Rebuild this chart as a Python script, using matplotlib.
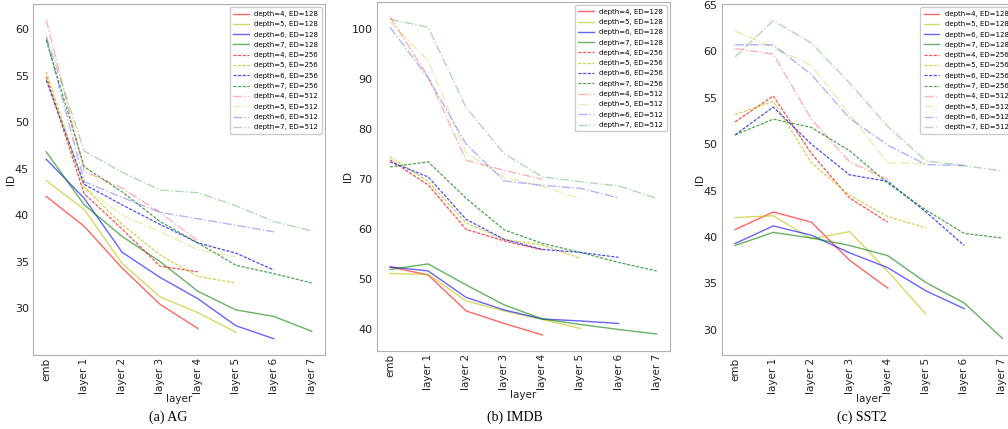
import matplotlib
matplotlib.use("Agg")
from matplotlib import pyplot as plt

# x axis categories (shared by all three panels)
layers = ["emb", "layer 1", "layer 2", "layer 3", "layer 4", "layer 5", "layer 6", "layer 7"]
depths = [4, 5, 6, 7]
dims = [128, 256, 512]

# AG  -> one list per depth, index = position in depths
ag_128 = [[42.0, 38.8, 34.3, 30.4, 27.8],
          [43.7, 40.6, 34.8, 31.2, 29.5, 27.4],
          [46.0, 41.8, 36.0, 33.3, 31.0, 28.1, 26.7],
          [46.8, 41.1, 37.7, 35.0, 31.8, 29.8, 29.1, 27.5]]
ag_256 = [[54.9, 42.3, 38.5, 34.5, 33.9],
          [55.4, 43.0, 39.0, 35.7, 33.4, 32.7],
          [54.5, 43.3, 41.1, 39.0, 37.0, 35.9, 34.1],
          [58.8, 45.2, 42.5, 39.3, 37.0, 34.6, 33.7, 32.7]]
ag_512 = [[61.0, 44.7, 42.9, 40.3, 37.2],
          [54.8, 43.0, 40.0, 38.2, 36.3, 35.5],
          [59.1, 43.6, 41.9, 40.3, 39.6, 38.9, 38.2],
          [59.2, 46.9, 44.6, 42.7, 42.4, 41.0, 39.3, 38.3]]

# IMDB
imdb_128 = [[52.5, 50.9, 43.7, 41.2, 38.9],
            [51.2, 51.0, 45.7, 43.7, 42.0, 40.2],
            [52.5, 51.7, 46.4, 43.9, 42.1, 41.7, 41.2],
            [52.0, 53.1, 48.9, 44.9, 42.1, 41.0, 40.0, 39.1]]
imdb_256 = [[73.9, 68.9, 60.0, 57.7, 55.9],
            [74.5, 69.6, 61.3, 58.0, 56.9, 54.2],
            [73.5, 70.5, 62.0, 58.0, 56.0, 55.4, 54.4],
            [72.5, 73.5, 66.2, 59.9, 57.2, 55.4, 53.4, 51.7]]
imdb_512 = [[102.5, 90.5, 73.8, 71.8, 70.0],
            [101.5, 93.7, 75.3, 70.4, 68.6, 66.1],
            [100.4, 90.3, 77.0, 69.7, 68.8, 68.2, 66.3],
            [102.0, 100.4, 84.3, 75.1, 70.5, 69.5, 68.7, 66.2]]

# SST2
sst2_128 = [[40.8, 42.7, 41.6, 37.5, 34.5],
            [42.1, 42.3, 39.8, 40.6, 36.3, 31.7],
            [39.3, 41.2, 40.2, 38.3, 36.7, 34.2, 32.3],
            [39.1, 40.5, 39.9, 39.1, 38.0, 35.1, 32.9, 29.1]]
sst2_256 = [[52.4, 55.2, 49.0, 44.2, 41.6],
            [53.2, 54.6, 48.0, 44.5, 42.2, 41.0],
            [51.0, 54.0, 50.0, 46.7, 46.0, 42.7, 39.1],
            [51.0, 52.7, 51.8, 49.3, 45.8, 42.9, 40.4, 39.9]]
sst2_512 = [[60.3, 59.7, 52.7, 48.1, 46.2],
            [62.2, 60.4, 58.5, 53.2, 48.0, 47.9],
            [60.7, 60.7, 57.5, 52.8, 49.9, 47.8, 47.7],
            [59.4, 63.3, 60.9, 56.6, 51.9, 48.2, 47.7, 47.1]]

captions = ["(a) AG", "(b) IMDB", "(c) SST2"]
y_ticks = [[30, 35, 40, 45, 50, 55, 60],
           [40, 50, 60, 70, 80, 90, 100],
           [30, 35, 40, 45, 50, 55, 60, 65]]
y_limits = [(24.95, 62.7), (35.7, 105.5), (27.3, 65.1)]

colors = ["r", "y", "b", "g"]
# ED -> (line style, alpha, width)
styles = {128: ("-", 0.6, 1.0), 256: ((0, (2.5, 1.2)), 0.7, 0.9), 512: ("-.", 0.3, 1.0)}

W, H = 1008, 429
# axes boxes in pixels: left, top, right, bottom
boxes = [(33, 4, 325, 355), (376.7, 1.7, 670, 351), (721.7, 4, 1015.7, 355)]
caption_x = [168, 515, 862]


def draw_panel(ax, series, yticks, ylim):
    for dim, group in zip(dims, series):
        ls, alpha, lw = styles[dim]
        for depth, color, values in zip(depths, colors, group):
            ax.plot(layers[:len(values)], values, color=color, linestyle=ls, alpha=alpha,
                    linewidth=lw, label=f"depth={depth}, ED={dim}")

    ax.set_xlim(-0.35, 7.35)
    ax.set_ylim(*ylim)
    ax.set_yticks(yticks)
    ax.tick_params(axis="x", labelrotation=90, pad=2, labelsize=7.5)
    ax.tick_params(axis="y", labelsize=8, pad=3)
    ax.tick_params(length=0, colors="#222222")
    for spine in ax.spines.values():
        spine.set_color("#b0b0b0")
    ax.set_xlabel("layer", fontsize=7.5, labelpad=0, color="#222222")
    ax.set_ylabel("ID", fontsize=7.5, labelpad=-1, color="#222222")
    ax.legend(loc="upper right", fontsize=5, labelspacing=0.62, handlelength=2.2,
              borderpad=0.5, framealpha=1, edgecolor="#cccccc")


fig = plt.figure(figsize=(W / 100, H / 100), dpi=100)
all_data = [(ag_128, ag_256, ag_512), (imdb_128, imdb_256, imdb_512), (sst2_128, sst2_256, sst2_512)]

for i, series in enumerate(all_data):
    l, t, r, b = boxes[i]
    ax = fig.add_axes([l / W, 1 - b / H, (r - l) / W, (b - t) / H])
    draw_panel(ax, series, y_ticks[i], y_limits[i])
    fig.text(caption_x[i] / W, 1 - 417 / H, captions[i], ha="center", va="center",
             fontsize=10, family="Liberation Serif")

fig.savefig("out.png", dpi=100)
